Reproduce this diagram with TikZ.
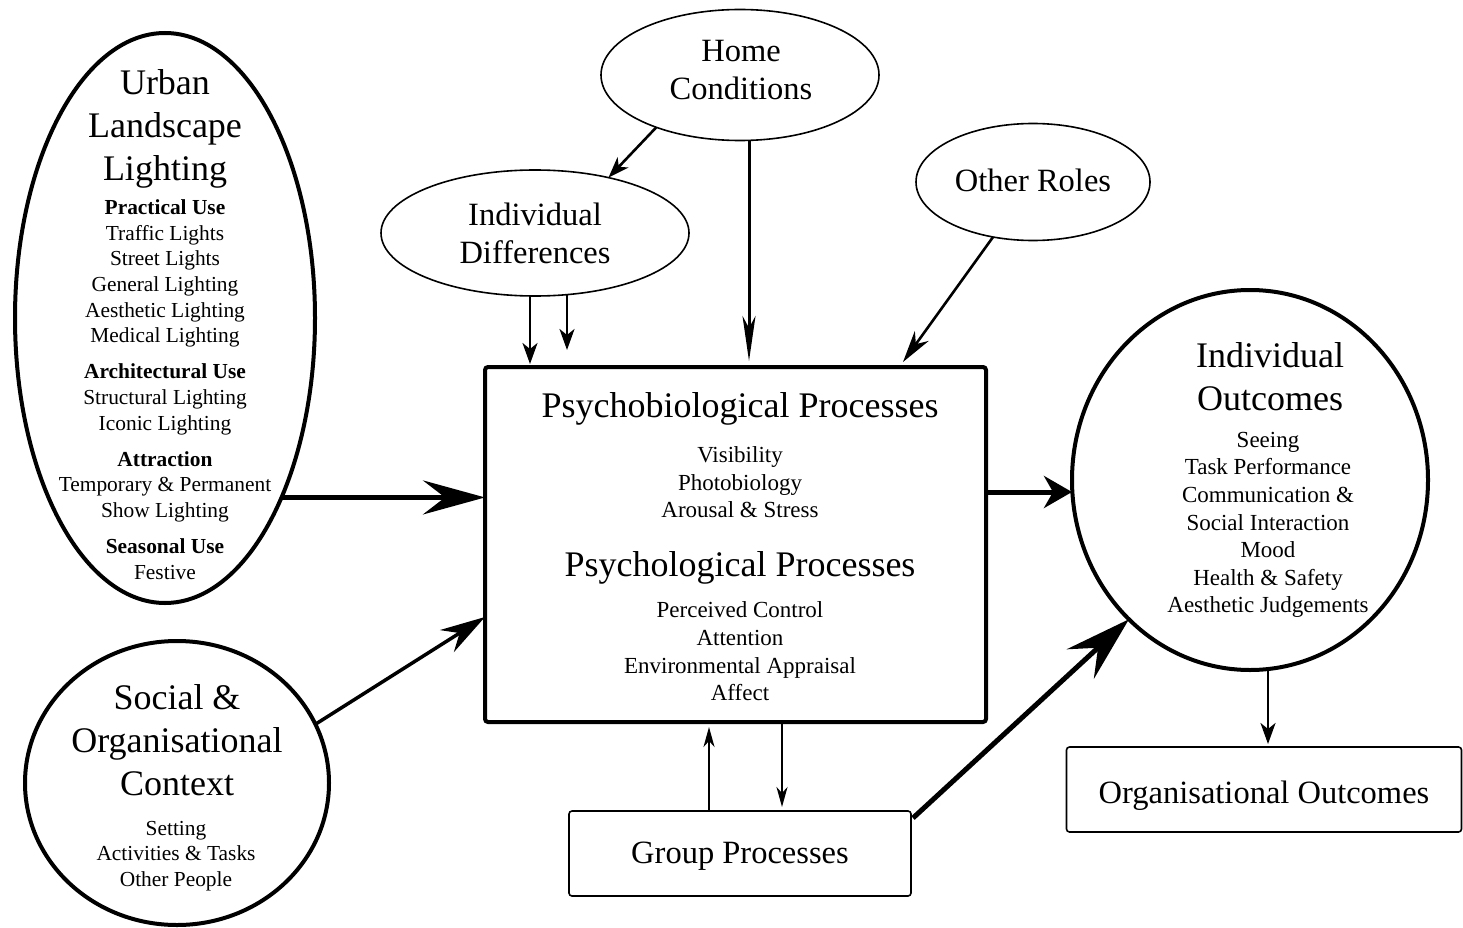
\documentclass[tikz,border=0pt]{standalone}
\usepackage{fontspec}
\setmainfont{Liberation Serif}
\usetikzlibrary{arrows.meta,shapes.geometric,calc}

\begin{document}
\begin{tikzpicture}[x=1pt,y=-1pt,
  heavy/.style={draw,line width=4pt},
  light/.style={draw,line width=1.6pt},
  oval/.style={ellipse,inner sep=0pt,outer sep=0pt},
  box/.style={rectangle,inner sep=0pt,outer sep=0pt,rounded corners=3pt},
  big/.style={font=\fontsize{36}{43}\selectfont,align=center,inner sep=0pt},
  mid/.style={font=\fontsize{32.5}{38}\selectfont,align=center,inner sep=0pt},
  small/.style={font=\fontsize{23}{27.6}\selectfont,align=center,inner sep=0pt},
  smaller/.style={font=\fontsize{21.4}{25.7}\selectfont,align=center,inner sep=0pt},
  bigarrow/.style={line width=5pt,-{Stealth[length=62pt,width=34pt,inset=22pt]}},
  fatarrow/.style={line width=5pt,-{Stealth[length=66pt,width=40pt,inset=24pt]}},
  shortfat/.style={line width=5pt,-{Stealth[length=28pt,width=32pt,inset=9pt]}},
  midarrow/.style={line width=3.5pt,-{Stealth[length=45pt,width=26pt,inset=15pt]}},
  longarrow/.style={line width=2.6pt,-{Stealth[length=32pt,width=17pt,inset=10pt]}},
  needle/.style={line width=3pt,-{Stealth[length=45pt,width=13pt,inset=12pt]}},
  thinarrow/.style={line width=2.6pt,-{Stealth[length=21pt,width=15pt,inset=6pt]}},
  fine/.style={line width=2pt,-{Stealth[length=20pt,width=11pt,inset=6pt]}}
]
\useasboundingbox (0,0) rectangle (1463,928);

% ---- shapes ----
\node[oval,heavy,minimum width=300pt,minimum height=570pt] (urban) at (165,318) {};
\node[oval,heavy,minimum width=304pt,minimum height=284pt] (social) at (177,783) {};
\node[oval,light,minimum width=278pt,minimum height=131pt] (home) at (740,75) {};
\node[oval,light,minimum width=308pt,minimum height=126pt] (inddiff) at (535,233) {};
\node[oval,light,minimum width=234pt,minimum height=117pt] (other) at (1033,182) {};
\node[box,heavy,minimum width=501pt,minimum height=355pt] (main) at (735.5,544.5) {};
\node[oval,heavy,minimum width=356pt,minimum height=380pt] (indout) at (1250,480) {};
\node[box,light,minimum width=342pt,minimum height=85pt] (group) at (740,853.5) {};
\node[box,light,minimum width=395pt,minimum height=85pt] (org) at (1264,789.5) {};

% ---- texts ----
\node[big] (urbanT) at (165,129) {Urban\\Landscape\\Lighting};
\node[smaller] (urbanL) at (165,389.5) {\textbf{Practical Use}\\Traffic Lights\\Street Lights\\General Lighting\\Aesthetic Lighting\\Medical Lighting\\[10.3pt]
  \textbf{Architectural Use}\\Structural Lighting\\Iconic Lighting\\[10.3pt]
  \textbf{Attraction}\\Temporary \& Permanent\\Show Lighting\\[10.3pt]
  \textbf{Seasonal Use}\\Festive};
\node[big] (socialT) at (177,740) {Social \&\\Organisational\\Context};
\node[smaller] (socialL) at (176,856) {Setting\\Activities \& Tasks\\Other People};
\node[mid] (homeT) at (741,70) {Home\\Conditions};
\node[mid] (inddiffT) at (535,233) {Individual\\Differences};
\node[mid] (otherT) at (1033,180) {Other Roles};
\node[big] (psyT) at (740,409) {Psychobiological Processes};
\node[small] (psyL) at (740,482.5) {Visibility\\Photobiology\\Arousal \& Stress};
\node[big] (psgT) at (740,568) {Psychological Processes};
\node[small] (psgL) at (740,651.5) {Perceived Control\\Attention\\Environmental Appraisal\\Affect};
\node[big] (indoutT) at (1270,376.5) {Individual\\Outcomes};
\node[small] (indoutL) at (1268,525) {Seeing\\Task Performance\\Communication \&\\Social Interaction\\Mood\\Health \& Safety\\Aesthetic Judgements};
\node[mid] (groupT) at (740,856) {Group Processes};
\node[mid] (orgT) at (1264,796) {Organisational Outcomes};

% ---- connectors ----
\draw[bigarrow] (urban.-57.1) -- (urban.-57.1 -| main.west);
\draw[midarrow] (social.23) -- ([yshift=-72.5pt]main.west);
\draw[shortfat] ([yshift=52.5pt]main.east) -- ([yshift=52.5pt]main.east -| indout.west);
\draw[fatarrow] ([xshift=2pt,yshift=-7pt]group.north east) -- (indout.229);
\draw[thinarrow] (home.212.6) -- (inddiff.37.4);
\draw[needle] ([xshift=9pt]home.south) -- ([xshift=9pt,yshift=6pt]home.south |- main.north);
\draw[thinarrow] ([xshift=-5pt]inddiff.south) -- ([xshift=-5pt,yshift=3pt]inddiff.south |- main.north);
\draw[thinarrow] ([xshift=32pt,yshift=1.5pt]inddiff.south) -- ([xshift=32pt,yshift=17pt]inddiff.south |- main.north);
\draw[longarrow] (other.234.5) -- ([xshift=-83pt,yshift=5pt]main.north east);
\draw[fine] ([xshift=46.5pt]main.south) -- ([xshift=46.5pt,yshift=4pt]main.south |- group.north);
\draw[fine] ([xshift=-31pt]group.north) -- ([xshift=-31pt,yshift=-5pt]group.north |- main.south);
\draw[thinarrow] ([xshift=4pt]indout.south -| org.north) -- ([xshift=4pt,yshift=3pt]org.north);
\end{tikzpicture}
\end{document}
